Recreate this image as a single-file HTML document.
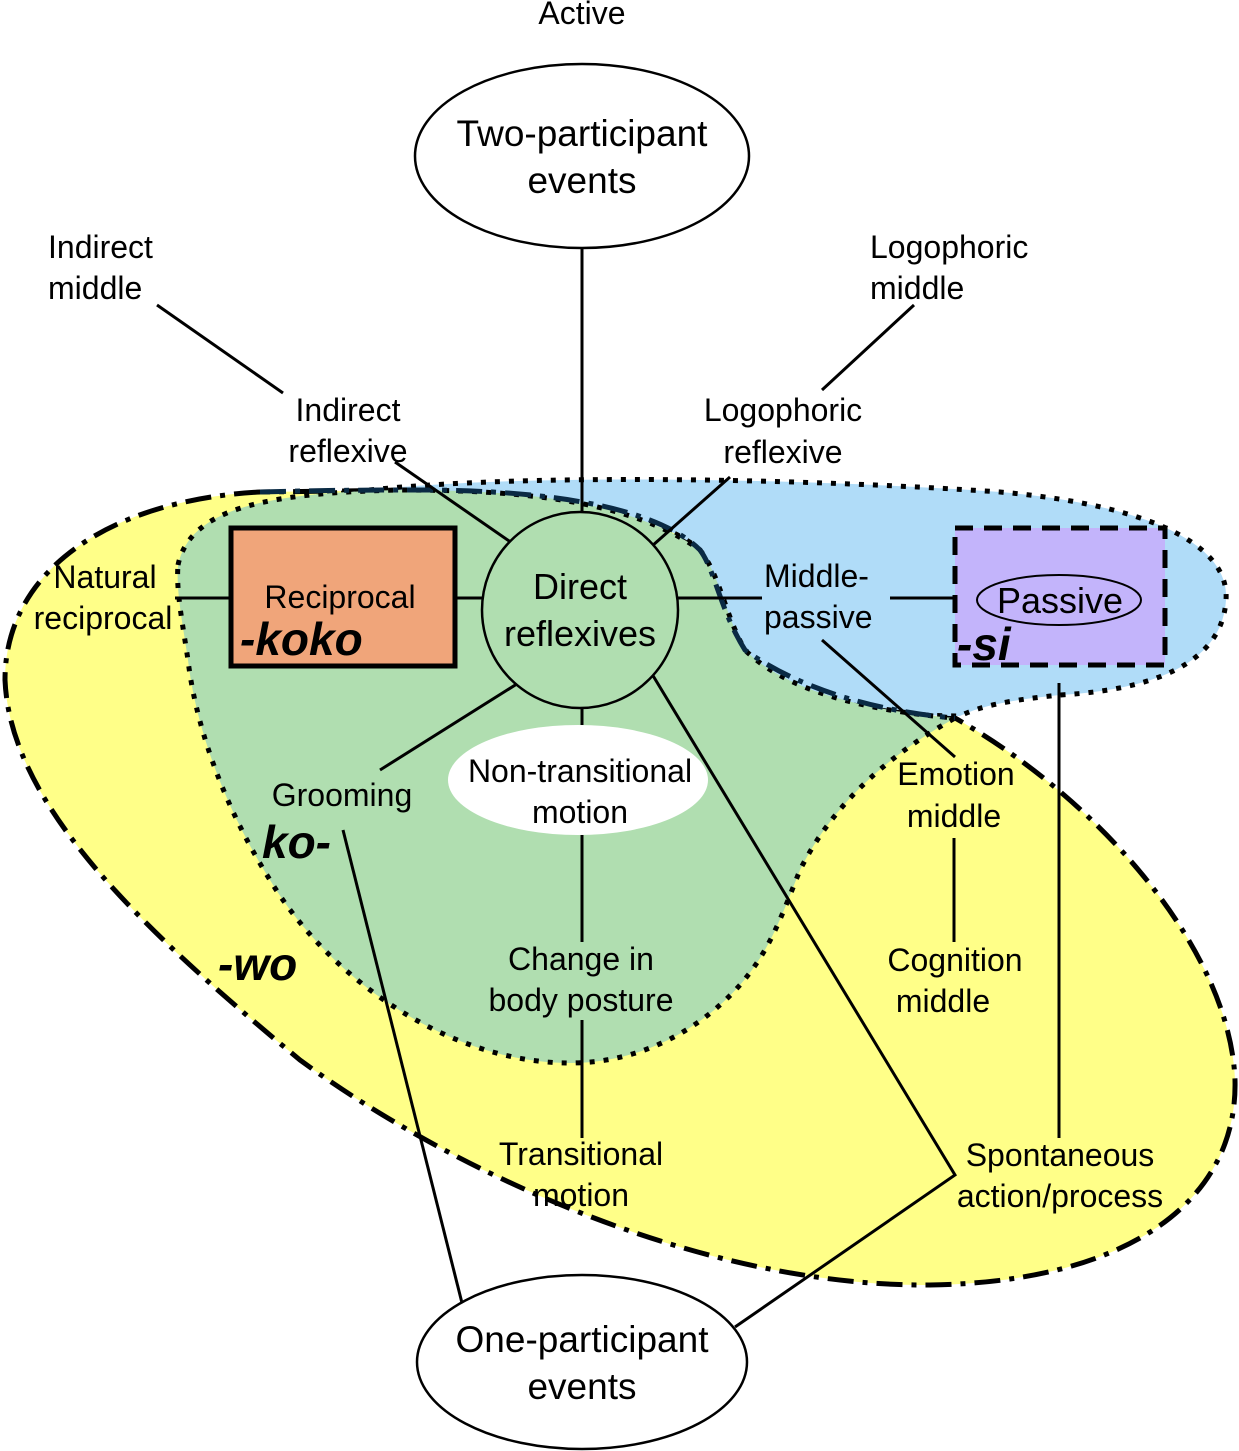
<!DOCTYPE html>
<html><head><meta charset="utf-8"><style>
body{margin:0;background:#fff}
svg{display:block}
text{font-family:"Liberation Sans",sans-serif;fill:#000}
</style></head><body>
<svg width="1239" height="1451" viewBox="0 0 1239 1451">
<path d="M260,492 C110,500 5,570 5,680 C10,800 130,920 300,1060 C450,1170 700,1287 930,1285 C1130,1282 1238,1200 1235,1080 C1230,950 1100,800 955,718 C880,712 800,690 745,650 C720,610 715,570 700,550 C660,510 560,490 420,490 Z" fill="#ffff88" stroke="#000" stroke-width="5" stroke-dasharray="26,9,5,9"/>
<path d="M300,500 C450,470 800,478 1000,492 C1150,505 1230,545 1226,600 C1222,665 1150,690 1060,695 C1010,700 980,706 960,716 C870,716 790,695 745,655 C720,615 715,570 700,550 C650,505 500,490 300,500 Z" fill="#b0dcf8" stroke="#000" stroke-width="5" stroke-dasharray="5,9"/>
<path d="M178,565 C190,510 260,493 400,490 C520,490 630,500 700,550 C720,575 725,615 745,650 C790,695 880,712 955,718 C880,760 830,810 800,870 C780,920 770,950 740,985 C700,1030 640,1063 570,1063 C450,1063 330,980 270,880 C220,800 195,720 188,660 C182,620 176,590 178,565 Z" fill="#b0deb0" stroke="#000" stroke-width="5" stroke-dasharray="5,9"/>
<path d="M260,492 C330,490 380,490 420,490 C560,490 660,510 700,550 C715,570 720,610 745,650 C800,690 880,712 955,718" fill="none" stroke="#0a2a44" stroke-width="5" stroke-dasharray="26,9,5,9"/>

<g stroke="#000" stroke-width="3" fill="none">
<line x1="582" y1="248" x2="582" y2="513"/>
<line x1="157" y1="305" x2="283" y2="393"/>
<line x1="395" y1="462" x2="512" y2="543"/>
<line x1="914" y1="305" x2="822" y2="390"/>
<line x1="730" y1="477" x2="652" y2="546"/>
<line x1="175" y1="598" x2="231" y2="598"/>
<line x1="455" y1="598" x2="483" y2="598"/>
<line x1="678" y1="598" x2="762" y2="598"/>
<line x1="890" y1="598" x2="953" y2="598"/>
<line x1="520" y1="682" x2="380" y2="770"/>
<line x1="582" y1="702" x2="582" y2="725"/>
<polyline points="652,674 955,1175 735,1327"/>
<line x1="822" y1="640" x2="955" y2="757"/>
<line x1="1059" y1="683" x2="1059" y2="1138"/>
<line x1="954" y1="838" x2="954" y2="942"/>
<line x1="582" y1="835" x2="582" y2="942"/>
<line x1="582" y1="1020" x2="582" y2="1138"/>
<line x1="343" y1="830" x2="462" y2="1303"/>
</g>

<ellipse cx="582" cy="156" rx="167" ry="92" fill="#fff" stroke="#000" stroke-width="2.5"/>
<ellipse cx="582" cy="1362" rx="165" ry="87" fill="#fff" stroke="#000" stroke-width="2.5"/>
<circle cx="580" cy="610" r="98" fill="#b0deb0" stroke="#000" stroke-width="2.5"/>
<ellipse cx="578" cy="780" rx="130" ry="55" fill="#fff"/>
<rect x="231" y="528" width="224" height="138" fill="#f0a57a" stroke="#000" stroke-width="5"/>
<rect x="955" y="528" width="210" height="137" fill="#c3b4fb" stroke="#000" stroke-width="5" stroke-dasharray="18,11"/>
<ellipse cx="1059" cy="600" rx="82" ry="25" fill="none" stroke="#000" stroke-width="2"/>

<g font-size="32" text-anchor="middle">
<text x="582" y="24">Active</text>
<text x="582" y="146" font-size="37">Two-participant</text>
<text x="582" y="193" font-size="37">events</text>
<text x="48" y="258" text-anchor="start">Indirect</text>
<text x="48" y="299" text-anchor="start">middle</text>
<text x="870" y="258" text-anchor="start">Logophoric</text>
<text x="870" y="299" text-anchor="start">middle</text>
<text x="348" y="421">Indirect</text>
<text x="348" y="462">reflexive</text>
<text x="783" y="421">Logophoric</text>
<text x="783" y="463">reflexive</text>
<text x="105" y="588">Natural</text>
<text x="103" y="629">reciprocal</text>
<text x="340" y="608">Reciprocal</text>
<text x="240" y="655" text-anchor="start" font-size="46" font-weight="bold" font-style="italic">-koko</text>
<text x="580" y="599" font-size="36">Direct</text>
<text x="580" y="646" font-size="36">reflexives</text>
<text x="764" y="587" text-anchor="start">Middle-</text>
<text x="764" y="628" text-anchor="start">passive</text>
<text x="1060" y="613" font-size="36">Passive</text>
<text x="957" y="660" text-anchor="start" font-size="46" font-weight="bold" font-style="italic">-si</text>
<text x="342" y="806">Grooming</text>
<text x="262" y="858" text-anchor="start" font-size="46" font-weight="bold" font-style="italic">ko-</text>
<text x="580" y="782">Non-transitional</text>
<text x="580" y="823">motion</text>
<text x="956" y="785">Emotion</text>
<text x="954" y="827">middle</text>
<text x="218" y="980" text-anchor="start" font-size="46" font-weight="bold" font-style="italic">-wo</text>
<text x="581" y="970">Change in</text>
<text x="581" y="1011">body posture</text>
<text x="955" y="971">Cognition</text>
<text x="943" y="1012">middle</text>
<text x="581" y="1165">Transitional</text>
<text x="581" y="1206">motion</text>
<text x="1060" y="1166">Spontaneous</text>
<text x="1060" y="1207">action/process</text>
<text x="582" y="1352" font-size="37">One-participant</text>
<text x="582" y="1399" font-size="37">events</text>
</g>
</svg>
</body></html>
